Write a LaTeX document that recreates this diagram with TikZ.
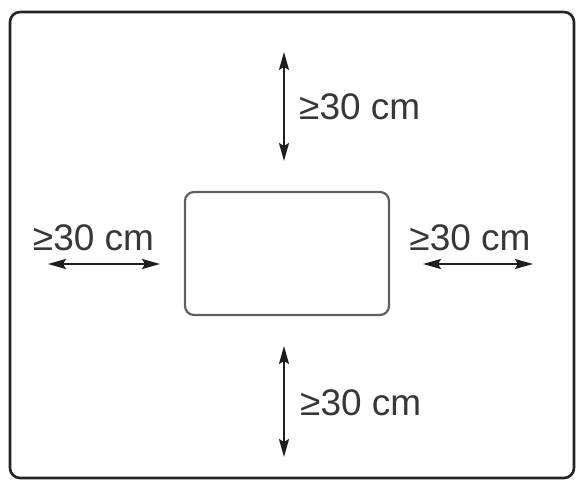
\documentclass[tikz,border=0pt]{standalone}
\usepackage{fontspec}
\setmainfont{Liberation Sans}
\usetikzlibrary{arrows.meta}
\definecolor{cframe}{RGB}{35,35,35}
\definecolor{cbox}{RGB}{95,95,95}
\definecolor{ctext}{RGB}{55,55,55}
\definecolor{carrow}{RGB}{30,30,30}

\begin{document}
\begin{tikzpicture}[
        x=1pt, y={(0pt,-1pt)},
        room/.style={draw=cframe, line width=2.6pt, rounded corners=10pt},
        unitbox/.style={shape=rectangle, draw=cbox, line width=2.2pt, rounded corners=9pt,
                        minimum width=204pt, minimum height=123pt, inner sep=0pt},
        gap/.style={<->, >={Stealth[length=18pt,width=10pt,inset=3pt]}, line width=1.6pt, carrow},
        dist/.style={text=ctext, font=\fontsize{37}{37}\selectfont, inner sep=0pt},
        ]
        \useasboundingbox (0,0) rectangle (582,484);
        \draw[room] (10,12) rectangle (574,478);
        \node(unit)[unitbox] at (287,253.5) {};
        % top and bottom
        \coordinate(t1) at (284,52);
        \coordinate(t2) at (284,161);
        \coordinate(b1) at (284,346);
        \coordinate(b2) at (284,457);
        \draw[gap](t1)--(t2);
        \draw[gap](b1)--(b2);
        \node(ltop)[dist, anchor=west] at (299,107) {≥30 cm};
        \node(lbot)[dist, anchor=west] at (300,403) {≥30 cm};
        % left and right
        \coordinate(l1) at (48,264);
        \coordinate(l2) at (160,264);
        \coordinate(r1) at (423,264);
        \coordinate(r2) at (533,264);
        \draw[gap](l1)--(l2);
        \draw[gap](r1)--(r2);
        \node(lleft)[dist] at (93.5,238) {≥30 cm};
        \node(lright)[dist] at (470,238) {≥30 cm};
\end{tikzpicture}
\end{document}
